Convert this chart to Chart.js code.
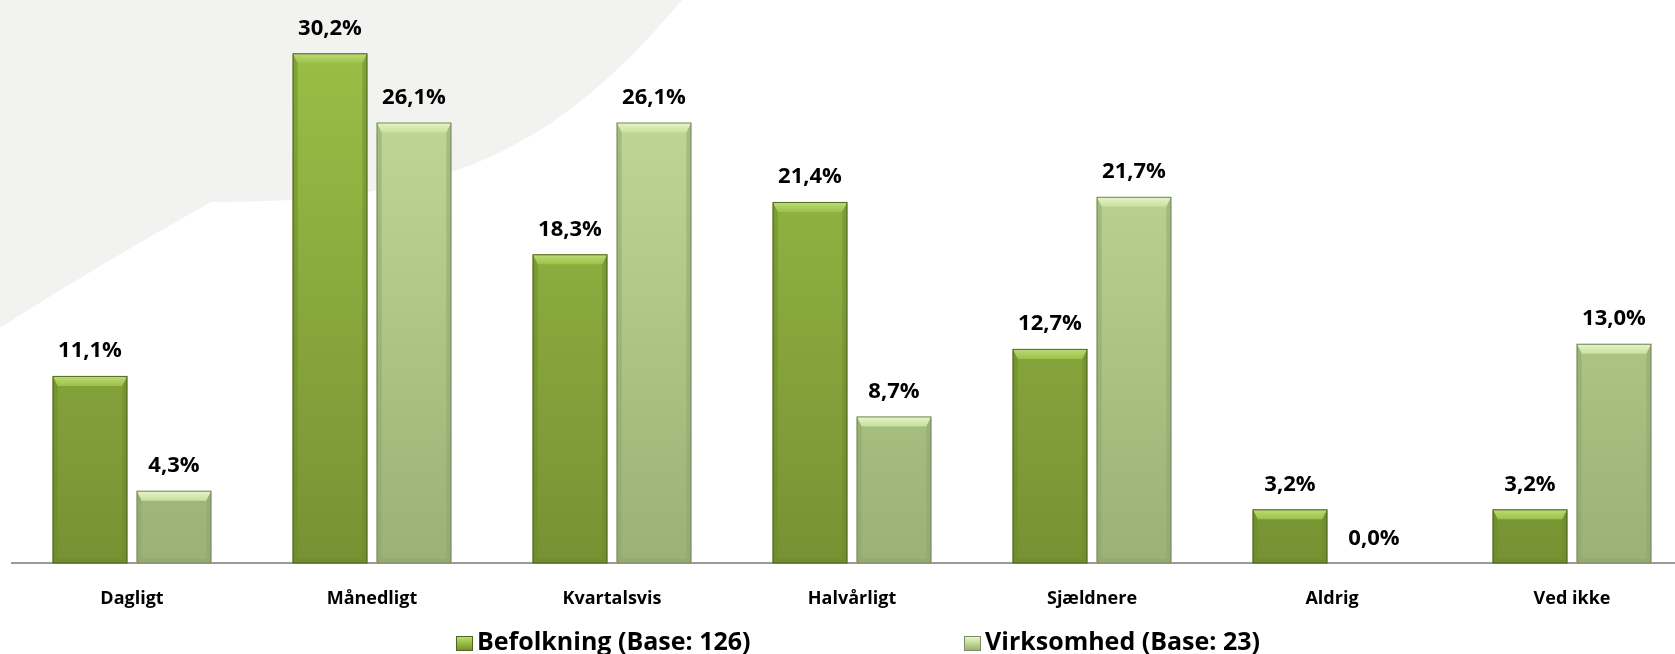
<!DOCTYPE html>
<html>
<head>
<meta charset="utf-8">
<script src="https://cdn.jsdelivr.net/npm/chart.js@4"></script>
<style>
    html, body { margin: 0; padding: 0; width: 1675px; height: 654px; overflow: hidden; background: #ffffff; }
    #wrap { position: absolute; left: -10px; top: 0; width: 1710px; height: 649px; }
    #legend { position: absolute; top: 626px; left: 0; width: 1675px; height: 28px; font-family: "Open Sans", sans-serif; font-weight: bold; font-size: 25px; color: #000; }
    .item { position: absolute; top: 0; white-space: nowrap; line-height: 28px; }
    .box { display: inline-block; width: 17px; height: 15px; margin-right: 4px; vertical-align: -1px; box-sizing: border-box; }
</style>
</head>
<body>
<div id="wrap"><canvas id="bar-chart"></canvas></div>
<div id="legend"></div>
<script>
var categories = ["Dagligt", "Månedligt", "Kvartalsvis", "Halvårligt", "Sjældnere", "Aldrig", "Ved ikke"];
var befolkning = [11.1, 30.2, 18.3, 21.4, 12.7, 3.2, 3.2];
var virksomhed = [4.3, 26.1, 26.1, 8.7, 21.7, 0.0, 13.0];
var seriesNames = ["Befolkning (Base: 126)", "Virksomhed (Base: 23)"];

// colours for each series: top of bar, bottom of bar, bevel light, bevel dark, border
var palette = [
    { top: "#9cc248", bottom: "#769233", light: "#bddc78", dark: "#6a872b", border: "#4f6620" },
    { top: "#c6e09d", bottom: "#9bb176", light: "#e8f5cc", dark: "#8ea36c", border: "#7d8c66" }
];

function fmt(v) {
    return v.toFixed(1).replace(".", ",") + "%";
}

// Grey background swoosh behind the chart (canvas is shifted 10px left)
var backdrop = {
    id: "backdrop",
    beforeDraw: function (chart) {
        var ctx = chart.ctx;
        ctx.save();
        ctx.translate(10, 0);
        ctx.fillStyle = "#f2f2f0";
        ctx.beginPath();
        ctx.moveTo(-10, 0);
        ctx.lineTo(682, 0);
        ctx.bezierCurveTo(540, 170, 420, 202, 211, 202);
        ctx.quadraticCurveTo(90, 270, 0, 328);
        ctx.lineTo(-10, 334);
        ctx.closePath();
        ctx.fill();
        ctx.restore();
    }
};

// Bevel look on every bar plus the value labels
var bevel = {
    id: "bevel",
    afterDatasetsDraw: function (chart) {
        var ctx = chart.ctx;
        chart.data.datasets.forEach(function (ds, di) {
            var c = palette[di];
            chart.getDatasetMeta(di).data.forEach(function (bar, i) {
                var l = bar.x - bar.width / 2, r = bar.x + bar.width / 2;
                var t = bar.y, b = bar.base;
                var h = b - t;
                ctx.save();
                if (h > 2) {
                    var bt = Math.min(10, h / 2), bs = Math.min(5, h / 3);
                    var lg = ctx.createLinearGradient(0, t, 0, t + bt);
                    lg.addColorStop(0, c.light);
                    lg.addColorStop(1, c.top);
                    ctx.fillStyle = lg;
                    ctx.beginPath();
                    ctx.moveTo(l, t); ctx.lineTo(r, t); ctx.lineTo(r - bs, t + bt); ctx.lineTo(l + bs, t + bt);
                    ctx.closePath(); ctx.fill();
                    ctx.globalAlpha = 0.5;
                    ctx.fillStyle = c.dark;
                    ctx.beginPath();
                    ctx.moveTo(l, t); ctx.lineTo(l + bs, t + bt); ctx.lineTo(l + bs, b - bs); ctx.lineTo(l, b);
                    ctx.closePath(); ctx.fill();
                    ctx.beginPath();
                    ctx.moveTo(r, t); ctx.lineTo(r - bs, t + bt); ctx.lineTo(r - bs, b - bs); ctx.lineTo(r, b);
                    ctx.closePath(); ctx.fill();
                    ctx.beginPath();
                    ctx.moveTo(l, b); ctx.lineTo(l + bs, b - bs); ctx.lineTo(r - bs, b - bs); ctx.lineTo(r, b);
                    ctx.closePath(); ctx.fill();
                    ctx.globalAlpha = 1;
                    ctx.strokeStyle = c.border;
                    ctx.lineWidth = 1;
                    ctx.strokeRect(l + 0.5, t + 0.5, r - l - 1, h - 1);
                }
                ctx.fillStyle = "#000";
                ctx.font = "bold 22px 'Open Sans'";
                ctx.textAlign = "center";
                ctx.textBaseline = "middle";
                ctx.fillText(fmt(ds.data[i]), bar.x, t - 25);
                ctx.restore();
            });
        });
    }
};

function gradientFor(idx) {
    return function (context) {
        var chart = context.chart;
        var area = chart.chartArea;
        if (!area) {
            return palette[idx].top;
        }
        var g = chart.ctx.createLinearGradient(0, area.top, 0, area.bottom);
        g.addColorStop(0, palette[idx].top);
        g.addColorStop(1, palette[idx].bottom);
        return g;
    };
}

function CreateDataSet(label, data, idx) {
    return {
        label: label,
        data: data,
        backgroundColor: gradientFor(idx),
        borderWidth: 0,
        categoryPercentage: 0.7,
        barPercentage: 0.89
    };
}

new Chart(document.getElementById("bar-chart"), {
    type: "bar",
    data: {
        labels: categories,
        datasets: [
            CreateDataSet(seriesNames[0], befolkning, 0),
            CreateDataSet(seriesNames[1], virksomhed, 1)
        ]
    },
    options: {
        responsive: true,
        maintainAspectRatio: false,
        animation: false,
        layout: { padding: { left: 22, right: 8, top: 6, bottom: 14 } },
        plugins: {
            legend: { display: false },
            tooltip: { enabled: false }
        },
        scales: {
            x: {
                grid: { display: false, drawTicks: false },
                border: { display: true, color: "#9a9a9a", width: 2 },
                ticks: {
                    color: "#000",
                    padding: 25,
                    font: { family: "'Open Sans'", size: 18, weight: "bold" }
                }
            },
            y: {
                display: false,
                min: 0,
                max: 33
            }
        }
    },
    plugins: [backdrop, bevel]
});

// Legend below the chart
var legendPos = [456, 964];
var legend = document.getElementById("legend");
seriesNames.forEach(function (name, i) {
    var item = document.createElement("div");
    item.className = "item";
    item.style.left = legendPos[i] + "px";
    var box = document.createElement("span");
    box.className = "box";
    box.style.background = "linear-gradient(" + palette[i].light + ", " + palette[i].top + " 40%, " + palette[i].bottom + ")";
    box.style.border = "1px solid " + palette[i].border;
    item.appendChild(box);
    item.appendChild(document.createTextNode(name));
    legend.appendChild(item);
});
</script>
</body>
</html>
